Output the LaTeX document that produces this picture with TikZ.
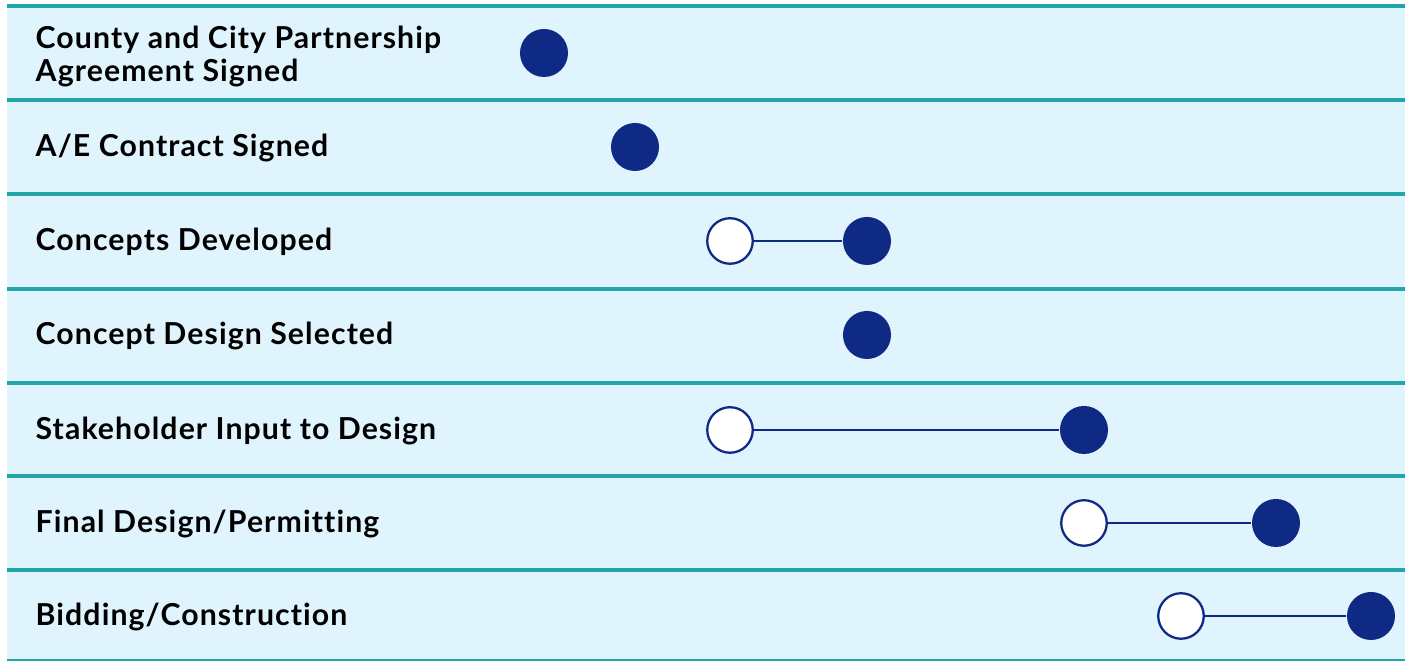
\documentclass[tikz,border=0pt]{standalone}
\usepackage{fontspec}
\setmainfont{Lato}[LetterSpace=3.6, Ligatures=NoCommon]
\definecolor{rowfill}{HTML}{E0F4FD}
\definecolor{rule}{HTML}{22A5A9}
\definecolor{navy}{HTML}{0F2A84}
\tikzset{
  label/.style={anchor=base west, font=\fontsize{8.6}{9.4}\selectfont\bfseries, align=left, inner sep=0pt},
  done/.style={circle, fill=navy, minimum size=0.48cm, inner sep=0pt},
  start/.style={circle, draw=navy, line width=0.65pt, fill=white, minimum size=0.455cm, inner sep=0pt},
  span/.style={navy, line width=0.55pt}
}
\begin{document}
\begin{tikzpicture}[x=0.01cm, y=-0.01cm]
    \useasboundingbox (0,0) rectangle (1405,662);

    % Background
    \fill[rowfill] (7,6) rectangle (1405,660);

    % Row rules
    \foreach \y in {6,100,194,289,383,476,570}
        \draw[rule, line width=1.3pt] (7,\y) -- (1405,\y);
    \draw[rule, line width=0.5pt] (7,660) -- (1405,660);

    % Labels (base = last line)
    \node[label] (l1) at (35,82) {County and City Partnership\\Agreement Signed};
    \node[label] (l2) at (35,157) {A/E Contract Signed};
    \node[label] (l3) at (35,251) {Concepts Developed};
    \node[label] (l4) at (35,345) {Concept Design Selected};
    \node[label] (l5) at (35,440) {Stakeholder Input to Design};
    \node[label] (l6) at (35,533) {Final Design/Permitting};
    \node[label] (l7) at (35,626) {Bidding/Construction};

    % Milestones
    \node[done] (e1) at (544,53) {};
    \node[done] (e2) at (635,147) {};
    \node[start] (s3) at (730,241) {};
    \node[done] (e3) at (867,241) {};
    \node[done] (e4) at (867,335) {};
    \node[start] (s5) at (730,430) {};
    \node[done] (e5) at (1084,430) {};
    \node[start] (s6) at (1084,523) {};
    \node[done] (e6) at (1276,523) {};
    \node[start] (s7) at (1181,616) {};
    \node[done] (e7) at (1371,616) {};

    % Durations
    \draw[span] (s3) -- (e3);
    \draw[span] (s5) -- (e5);
    \draw[span] (s6) -- (e6);
    \draw[span] (s7) -- (e7);
\end{tikzpicture}
\end{document}
